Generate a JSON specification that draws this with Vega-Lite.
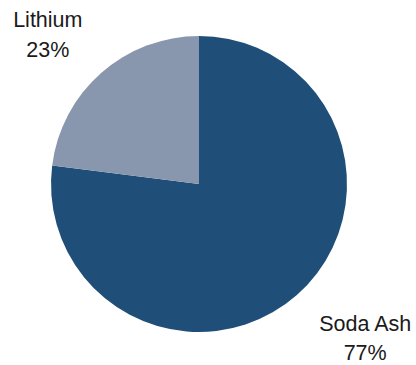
{
  "$schema": "https://vega.github.io/schema/vega-lite/v6.json",
  "autosize": "none",
  "width": 398,
  "height": 362,
  "padding": {"left": 0, "top": 3, "right": 18, "bottom": 0},
  "background": "white",
  "view": {"stroke": null},
  "data": {
    "values": [
      {"category": "Soda Ash", "value": 77, "label": "Soda Ash\n77%"},
      {"category": "Lithium", "value": 23, "label": "Lithium\n23%"}
    ]
  },
  "encoding": {
    "theta": {"field": "value", "type": "quantitative", "stack": true},
    "order": {"field": "category", "sort": "descending"}
  },
  "layer": [
    {
      "mark": {"type": "arc", "outerRadius": 148},
      "encoding": {
        "color": {
          "field": "category",
          "type": "nominal",
          "scale": {"domain": ["Soda Ash", "Lithium"], "range": ["#1F4E78", "#8896AE"]},
          "legend": null
        }
      }
    },
    {
      "mark": {"type": "text", "radius": 215, "dx": -9, "dy": -2, "font": "Liberation Sans", "fontSize": 21.5, "lineHeight": 30, "lineBreak": "\n", "align": "center", "baseline": "middle", "color": "#1a1a1a"},
      "encoding": {
        "text": {"condition": {"test": "datum.category === 'Lithium'", "field": "label"}, "value": ""}
      }
    },
    {
      "mark": {"type": "text", "radius": 215, "dx": 24, "dy": -20, "font": "Liberation Sans", "fontSize": 21.5, "lineHeight": 29, "lineBreak": "\n", "align": "center", "baseline": "middle", "color": "#1a1a1a"},
      "encoding": {
        "text": {"condition": {"test": "datum.category === 'Soda Ash'", "field": "label"}, "value": ""}
      }
    }
  ]
}
